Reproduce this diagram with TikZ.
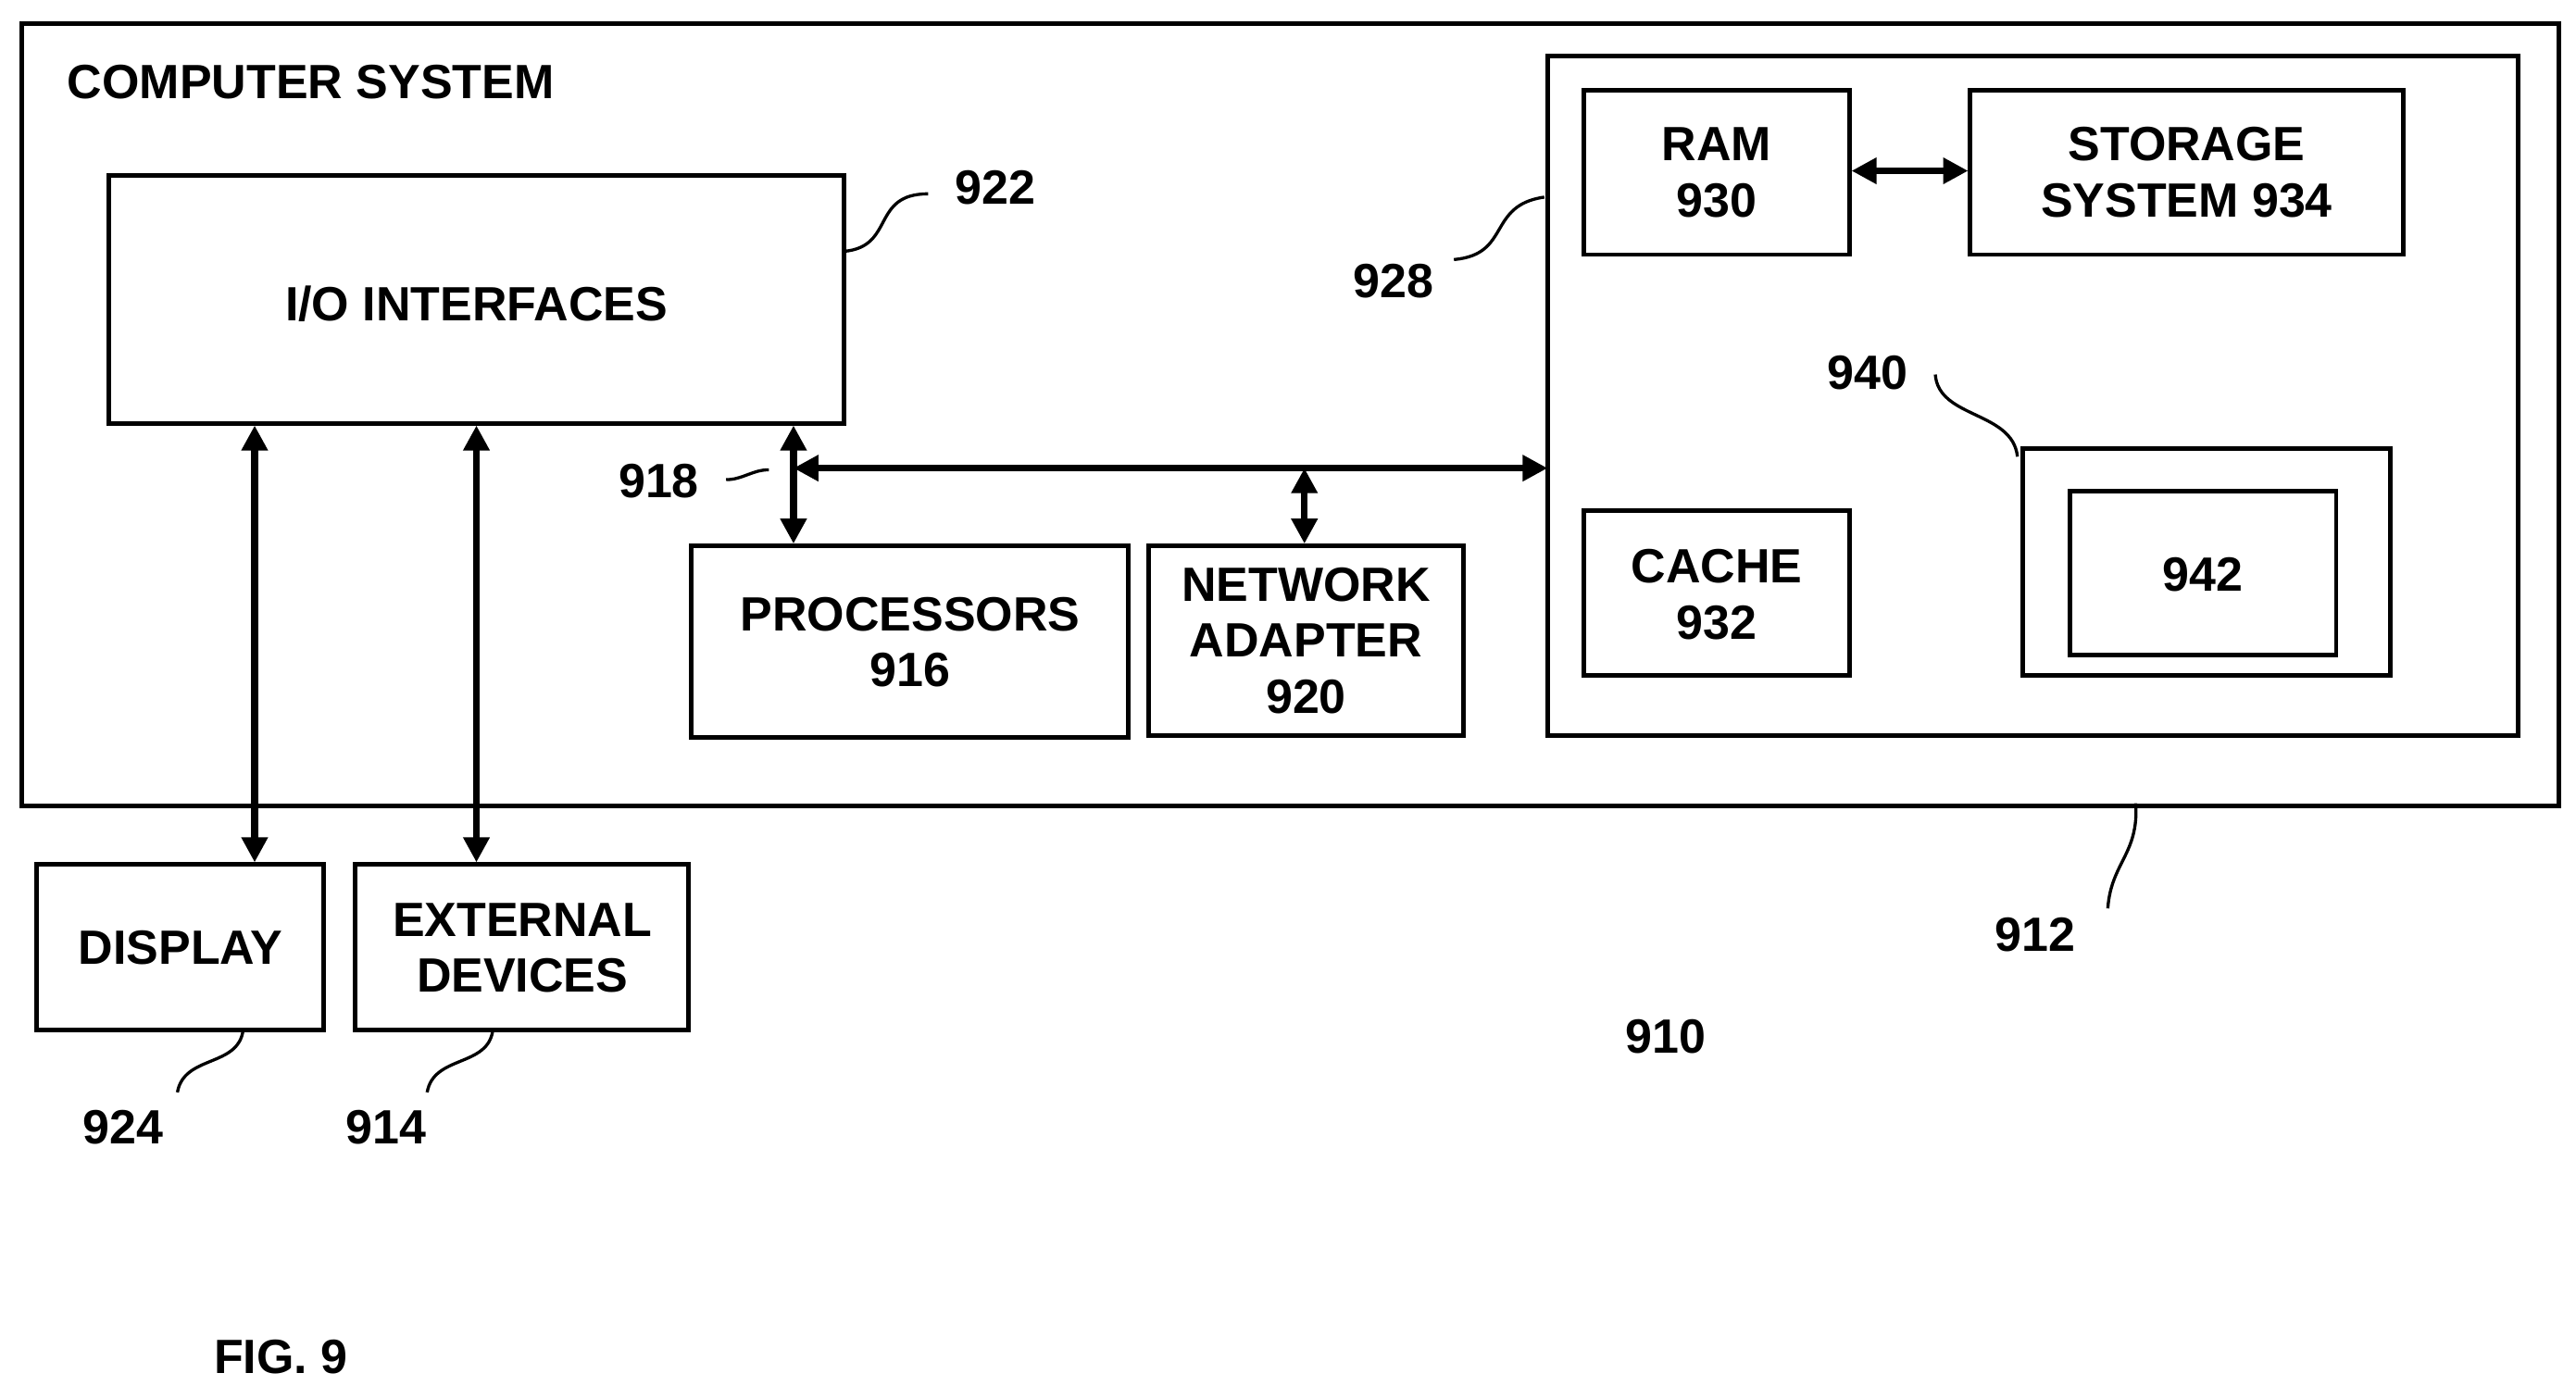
\documentclass[tikz,border=0pt]{standalone}
\usepackage{fontspec}
\setmainfont{Liberation Sans}
\usetikzlibrary{arrows.meta}
\begin{document}
\begin{tikzpicture}[x=0.03cm,y=-0.03cm,
  box/.style={draw,line width=2.4pt},
  txt/.style={font=\fontsize{25}{29}\selectfont\bfseries,align=center},
  arr/.style={line width=3.4pt,{Triangle[length=13pt,width=13pt]}-{Triangle[length=13pt,width=13pt]}},
  lead/.style={line width=1.6pt}]
\useasboundingbox (0,0) rectangle (1568,851);
\node[box,minimum width=1544*0.03cm,minimum height=476*0.03cm,anchor=north west] (cs) at (12,13) {};
\node[txt,anchor=west] (cst) at (37,50) {COMPUTER SYSTEM};
\draw[box] (66,107) rectangle (514,258);
\node[txt] (io) at (290,185) {I/O INTERFACES};
\coordinate (ioa) at (155,259); \coordinate (iob) at (290,259);
\node[txt] (l922) at (606,114) {922};
\draw[lead] (514,153) .. controls (545,150) and (530,118) .. (565,118);
\draw[box] (942,34) rectangle (1533,448);
\node[txt] (l928) at (848,171) {928};
\draw[lead] (940,120) .. controls (905,125) and (920,155) .. (885,158);
\draw[box] (964,55) rectangle (1126,155);
\node[txt] (ram) at (1045,105) {RAM\\930};
\draw[box] (1199,55) rectangle (1463,155);
\node[txt] (sto) at (1331,105) {STORAGE\\SYSTEM 934};
\coordinate (ramr) at (1127,104); \coordinate (stol) at (1198,104);
\draw[arr] (ramr) -- (stol);
\draw[box] (964,311) rectangle (1126,411);
\node[txt] (cache) at (1045,362) {CACHE\\932};
\draw[box] (1231,273) rectangle (1455,411);
\draw[box] (1260,299) rectangle (1422,399);
\node[txt] (n942) at (1341,350) {942};
\node[txt] (l940) at (1137,227) {940};
\draw[lead] (1178,228) .. controls (1180,255) and (1225,250) .. (1228,278);
\coordinate (bl) at (483,285); \coordinate (br) at (942,285);
\draw[arr] (bl) -- (br);
\coordinate (vt) at (483,259); \coordinate (vb) at (483,331);
\draw[arr] (vt) -- (vb);
\node[txt] (l918) at (401,293) {918};
\draw[lead] (442,292) .. controls (452,292) and (458,286) .. (468,286);
\draw[box] (421,332) rectangle (687,449);
\node[txt] (proc) at (554,391) {PROCESSORS\\916};
\draw[box] (699,332) rectangle (891,448);
\node[txt] (net) at (795,390) {NETWORK\\ADAPTER\\920};
\coordinate (nt) at (794,285); \coordinate (nb) at (794,331);
\draw[arr] (nt) -- (nb);
\draw[box] (22,526) rectangle (197,627);
\node[txt] (disp) at (110,577) {DISPLAY};
\draw[box] (216,526) rectangle (419,627);
\node[txt] (ext) at (318,577) {EXTERNAL\\DEVICES};
\coordinate (da) at (155,525); \coordinate (ea) at (290,525);
\draw[arr] (ioa) -- (da);
\draw[arr] (iob) -- (ea);
\node[txt] (l924) at (75,686) {924};
\draw[lead] (148,627) .. controls (145,650) and (112,642) .. (108,665);
\node[txt] (l914) at (235,686) {914};
\draw[lead] (300,627) .. controls (297,650) and (264,642) .. (260,665);
\node[txt] (l912) at (1239,569) {912};
\draw[lead] (1300,489) .. controls (1302,520) and (1285,525) .. (1283,553);
\node[txt] (l910) at (1014,631) {910};
\node[txt] (fig) at (171,826) {FIG. 9};
\end{tikzpicture}
\end{document}
